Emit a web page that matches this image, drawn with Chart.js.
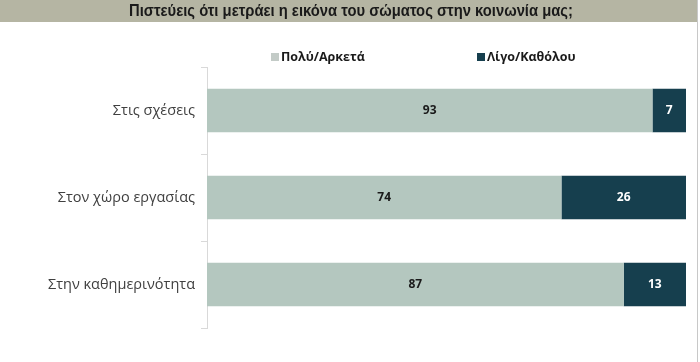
<!DOCTYPE html>
<html>
<head>
<meta charset="utf-8">
<script src="https://cdn.jsdelivr.net/npm/chart.js@4/dist/chart.umd.min.js"></script>
<style>
html,body{margin:0;padding:0;background:#fff;}
#wrap{position:relative;width:700px;height:362px;}
</style>
</head>
<body>
<div id="wrap"><canvas id="c" width="700" height="362"></canvas></div>
<script>
const titleText = "Πιστεύεις ότι μετράει η εικόνα του σώματος στην κοινωνία μας;";
const categories = ["Στις σχέσεις", "Στον χώρο εργασίας", "Στην καθημερινότητα"];
const seriesNames = ["Πολύ/Αρκετά", "Λίγο/Καθόλου"];
const muchValues = [93, 74, 87];
const littleValues = [7, 26, 13];

const colLight = "#B4C7BF";
const colDark = "#163F4E";

const framePlugin = {
  id: "frame",
  beforeDraw(chart) {
    const ctx = chart.ctx;
    ctx.save();
    ctx.fillStyle = "#fff";
    ctx.fillRect(0, 0, chart.width, chart.height);
    ctx.fillStyle = "#B5B5A3";
    ctx.fillRect(0, 0, 698, 22);
    ctx.strokeStyle = "#C8C8C8";
    ctx.lineWidth = 1;
    ctx.beginPath();
    ctx.moveTo(697.5, 0);
    ctx.lineTo(697.5, chart.height);
    ctx.stroke();
    ctx.save();
    ctx.translate(351, 11);
    ctx.scale(0.87, 1);
    ctx.fillStyle = "#1A1A1A";
    ctx.font = "bold 17px 'Liberation Sans', Arial, sans-serif";
    ctx.textAlign = "center";
    ctx.textBaseline = "middle";
    ctx.fillText(titleText, 0, 0);
    ctx.restore();
    // legend
    const items = [
      {x: 271, color: "#C3CBC7"},
      {x: 477, color: colDark}
    ];
    ctx.font = "bold 12.5px 'Open Sans', sans-serif";
    ctx.textAlign = "left";
    ctx.textBaseline = "middle";
    items.forEach((it, i) => {
      ctx.fillStyle = it.color;
      ctx.fillRect(it.x, 53, 8, 8);
      ctx.fillStyle = "#1A1A1A";
      ctx.fillText(chart.data.datasets[i].label, it.x + 10, 57.5);
    });
    ctx.restore();
  },
  afterDatasetsDraw(chart) {
    const ctx = chart.ctx;
    ctx.save();
    ctx.font = "bold 12px 'Open Sans', sans-serif";
    ctx.textAlign = "center";
    ctx.textBaseline = "middle";
    chart.data.datasets.forEach((ds, di) => {
      const meta = chart.getDatasetMeta(di);
      meta.data.forEach((bar, i) => {
        const p = bar.getProps(["x", "y", "base"], true);
        const cx = (p.x + p.base) / 2;
        ctx.fillStyle = di === 0 ? "#1A1A1A" : "#FFFFFF";
        ctx.fillText(String(ds.data[i]), cx, p.y);
      });
    });
    ctx.restore();
  }
};

new Chart(document.getElementById("c"), {
  type: "bar",
  data: {
    labels: categories,
    datasets: [
      {label: seriesNames[0], data: muchValues, backgroundColor: colLight, barPercentage: 1, categoryPercentage: 0.5},
      {label: seriesNames[1], data: littleValues, backgroundColor: colDark, barPercentage: 1, categoryPercentage: 0.5}
    ]
  },
  options: {
    indexAxis: "y",
    responsive: false,
    animation: false,
    layout: {padding: {left: 0, right: 14, top: 67, bottom: 34}},
    plugins: {legend: {display: false}, title: {display: false}, tooltip: {enabled: false}},
    scales: {
      x: {stacked: true, min: 0, max: 100, display: false},
      y: {
        stacked: true,
        afterFit(scale) { scale.width = 207; },
        border: {display: true, color: "#D9D9D9", width: 1},
        grid: {display: true, drawOnChartArea: false, color: "#D9D9D9", tickLength: 6, offset: true},
        ticks: {color: "#404040", padding: 6, font: {family: "'Open Sans', sans-serif", size: 14.5}}
      }
    }
  },
  plugins: [framePlugin]
});
</script>
</body>
</html>
